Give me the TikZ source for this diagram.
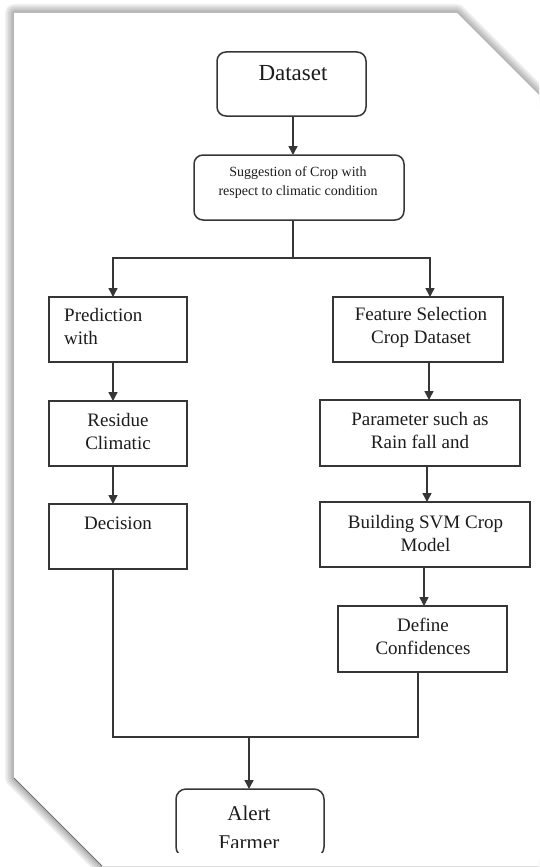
\documentclass[tikz,border=0pt]{standalone}
\usepackage{fontspec}
\setmainfont{Liberation Serif}
\usetikzlibrary{arrows.meta,calc}
\definecolor{ink}{HTML}{1C1C1C}
\definecolor{edge}{HTML}{363636}
\begin{document}
\begin{tikzpicture}[x=1pt,y=-1pt,
  box/.style={draw=edge, line width=1.5pt, inner sep=0pt, outer sep=0pt},
  rbox/.style={box, rounded corners=9pt},
  lbl/.style={text=ink, inner sep=0pt, align=center, font=\fontsize{19}{23}\selectfont},
  flow/.style={draw=edge, line width=1.5pt},
  arr/.style={flow, -{Triangle[length=9pt,width=9pt]}},
]
\useasboundingbox (0,0) rectangle (539,867);
\fill[white] (0,0) rectangle (539,867);

% paper sheet with cut corners and a soft shadow
\begin{scope}
  \clip (0,0) rectangle (539,867);
  \foreach \w in {18,15,...,3}{
    \draw[black, opacity=0.055, line width=\w pt, line join=round]
      (14,13) -- (457,13) -- (620,176) -- (620,866) -- (102,866) -- (14,778) -- cycle;
  }
  \fill[white] (14,13) -- (457,13) -- (620,176) -- (620,866) -- (102,866) -- (14,778) -- cycle;
  \draw[black!55, line width=0.9pt] (14,778) -- (102,866);
  \draw[black!12, line width=0.6pt] (102,866) -- (539,866);
\end{scope}

% column guides for the connectors
\coordinate (lx) at (113,0);
\coordinate (rx) at (430,0);
\coordinate (mx) at (249,0);

% top part
\node[rbox, minimum width=149pt, minimum height=64pt] (dataset) at (291.5,84) {};
\node[lbl, font=\fontsize{23}{27}\selectfont] (datasetT) at (293,73) {Dataset};

\node[rbox, minimum width=210pt, minimum height=65pt] (suggest) at (299,187.5) {};
\node[lbl, font=\fontsize{14}{19}\selectfont] (suggestT) at (298,182.5) {Suggestion of Crop with\\respect to climatic condition};

% left column
\node[box, minimum width=138pt, minimum height=65pt] (pred) at (118,329.5) {};
\node[lbl, anchor=west, align=left] (predT) at (64,326.5) {Prediction\\with};

\node[box, minimum width=138pt, minimum height=65pt] (residue) at (118,433.5) {};
\node[lbl] (residueT) at (118,431) {Residue\\Climatic};

\node[box, minimum width=138pt, minimum height=65pt] (decision) at (118,536.5) {};
\node[lbl] (decisionT) at (118,523) {Decision};

% right column
\node[box, minimum width=170pt, minimum height=65pt] (feature) at (418,329.5) {};
\node[lbl] (featureT) at (421,327.5) {Feature Selection\\Crop Dataset};

\node[box, minimum width=200pt, minimum height=66pt] (param) at (420,433) {};
\node[lbl] (paramT) at (420,430.5) {Parameter such as\\Rain fall and};

\node[box, minimum width=210pt, minimum height=65pt] (build) at (425,534.5) {};
\node[lbl] (buildT) at (425.5,533) {Building SVM Crop\\Model};

\node[box, minimum width=169pt, minimum height=66pt] (define) at (422.5,639) {};
\node[lbl] (defineT) at (423,636.5) {Define\\Confidences};

% bottom terminal, cut off at the lower edge
\begin{scope}
  \clip (0,0) rectangle (539,852);
  \node[box, rounded corners=10pt, minimum width=148pt, minimum height=68pt] (alert) at (250,823) {};
\end{scope}
\begin{scope}
  \clip (0,0) rectangle (539,847.5);
  \node[lbl, font=\fontsize{21}{29}\selectfont] (alertT) at (249,828) {Alert\\Farmer};
\end{scope}

% connectors
\draw[arr] (dataset.south -| suggestT.north) ++(-5,0) coordinate (dtop) -- (dtop |- suggest.north);
\coordinate (split) at (293,258);
\draw[flow] (suggest.south -| split) -- (split);
\draw[arr] (split) -| (pred.north -| lx);
\draw[arr] (split) -| (feature.north -| rx);

\draw[arr] (pred.south -| lx) -- (residue.north -| lx);
\draw[arr] (residue.south -| lx) -- (decision.north -| lx);

\draw[arr] (feature.south -| 429,0) -- (param.north -| 429,0);
\draw[arr] (param.south -| 427,0) -- (build.north -| 427,0);
\draw[arr] (build.south -| 424,0) -- (define.north -| 424,0);

\coordinate (join) at (249,737);
\draw[flow] (decision.south -| lx) |- (join);
\draw[flow] (define.south -| 418,0) |- (join);
\draw[arr] (join) -- (alert.north -| mx);
\end{tikzpicture}
\end{document}
